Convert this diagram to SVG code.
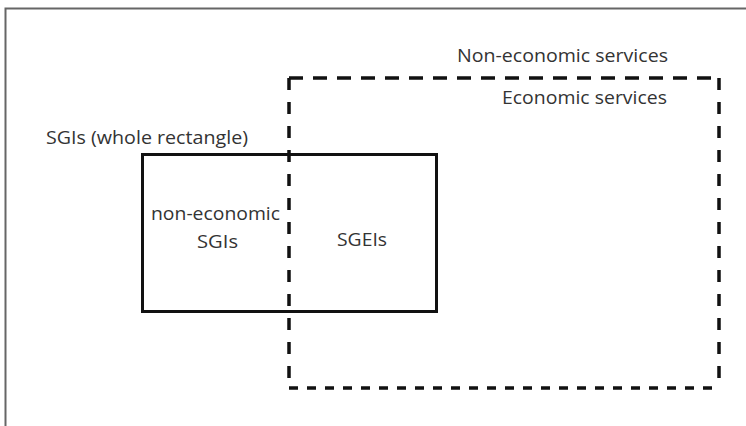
<svg xmlns="http://www.w3.org/2000/svg" width="746" height="426" viewBox="0 0 746 426">
<style>
.t{font-family:"Open Sans","Liberation Sans",sans-serif;font-size:19px;fill:#333}
.d{fill:none;stroke:#111;stroke-width:3.5}
</style>
<rect width="746" height="426" fill="#fff"/>
<g id="frame"><path d="M5.5 426 V8.5 H746" fill="none" stroke="#666" stroke-width="2"/></g>
<g id="economic">
<line class="d" x1="289" y1="78" x2="719" y2="78" stroke-dasharray="14 10"/>
<line class="d" x1="289" y1="78" x2="289" y2="388" stroke-dasharray="12 12"/>
<line class="d" x1="719" y1="78" x2="719" y2="388" stroke-dasharray="12 12"/>
<line class="d" x1="289" y1="388" x2="719" y2="388" stroke-dasharray="9 9"/>
<text class="t" x="502" y="104" textLength="165" lengthAdjust="spacingAndGlyphs">Economic services</text>
</g>
<g id="noneconomic"><text class="t" x="457" y="62" textLength="211" lengthAdjust="spacingAndGlyphs">Non-economic services</text></g>
<g id="sgis">
<rect x="142.5" y="154.5" width="294" height="157" fill="none" stroke="#111" stroke-width="3"/>
<text class="t" x="46" y="144" textLength="202" lengthAdjust="spacingAndGlyphs">SGIs (whole rectangle)</text>
<text class="t" x="151" y="220" textLength="129" lengthAdjust="spacingAndGlyphs">non-economic</text>
<text class="t" x="197" y="248" textLength="41" lengthAdjust="spacingAndGlyphs">SGIs</text>
<text class="t" x="337" y="246" textLength="50" lengthAdjust="spacingAndGlyphs">SGEIs</text>
</g>
</svg>
